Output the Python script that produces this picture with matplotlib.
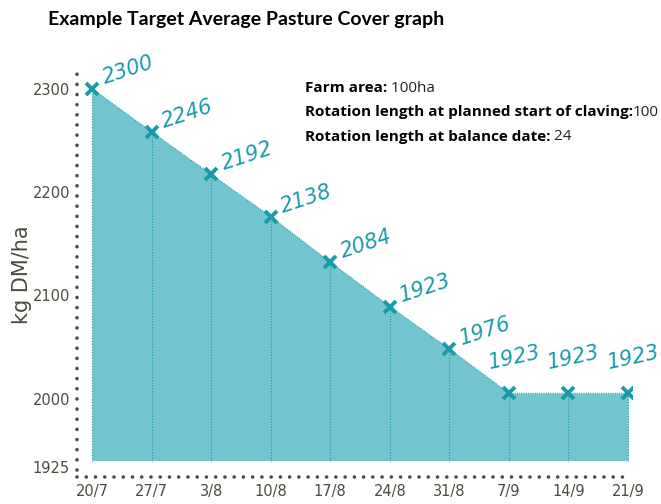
import matplotlib
matplotlib.use("Agg")
import matplotlib.pyplot as plt
import numpy as np

dates = ['20/7', '27/7', '3/8', '10/8', '17/8', '24/8', '31/8', '7/9', '14/9', '21/9']
cover = [2300, 2258, 2217, 2176, 2132, 2089, 2048, 2005, 2005, 2005]
point_labels = ['2300', '2246', '2192', '2138', '2084', '1923', '1976', '1923', '1923', '1923']
y_ticks = [1925, 2000, 2100, 2200, 2300]
info_bold = ['Farm area:', 'Rotation length at planned start of claving:', 'Rotation length at balance date:']
info_value = [' 100ha', '100', ' 24']
title = 'Example Target Average Pasture Cover graph'

W, H = 661, 504
TEAL = '#1a9ba8'
FILL = '#72c5cf'
GREY = '#4b4b3f'
SANS = ['Open Sans', 'DejaVu Sans']
TITLE_FONT = ['Lato', 'Open Sans', 'DejaVu Sans']

fig = plt.figure(figsize=(W / 100, H / 100), dpi=100)
ax = fig.add_axes([77 / W, 1 - 476 / H, (632 - 77) / W, (476 - 70) / H])
x = np.arange(len(dates))
ax.set_xlim(-15 / 59.56, 9 + 4 / 59.56)
ax.set_ylim(1925, 2318)

base = 1940
ax.fill_between(x, cover, base, color=FILL, lw=0, zorder=1)
ax.plot(x, cover, color=TEAL, lw=0.8, ls=(0, (1, 1)), zorder=2)
ax.vlines(x, base, cover, colors=TEAL, lw=0.8, linestyles=(0, (1, 1.5)), zorder=2)
ax.plot(x, cover, 'x', color=TEAL, ms=9, mew=2.8, zorder=3)

for i, (xi, yi, lab) in enumerate(zip(x, cover, point_labels)):
    if i < 7:
        ax.annotate(lab, (xi, yi), xytext=(9, 3), textcoords='offset points',
                    ha='left', va='baseline', rotation=18, rotation_mode='anchor',
                    fontsize=15, fontstyle='oblique', color=TEAL, zorder=4)
    else:
        ax.annotate(lab, (xi, yi), xytext=(4, 26), textcoords='offset points',
                    ha='center', va='center', rotation=12, rotation_mode='anchor',
                    fontsize=15, fontstyle='oblique', color=TEAL, zorder=4)

for s in ax.spines.values():
    s.set_visible(False)
# dotted axes
ax.plot([0, 0], [0.015, 1], transform=ax.transAxes, color=GREY, lw=2.6,
        ls=(0, (0.01, 2.8)), dash_capstyle='round', clip_on=False)
ax.plot([0, 0.99], [-0.003, -0.003], transform=ax.transAxes, color=GREY, lw=2.6,
        ls=(0, (0.01, 2.55)), dash_capstyle='round', clip_on=False)

ax.set_xticks(x)
ax.set_xticklabels(dates)
ax.set_yticks(y_ticks)
ax.set_yticklabels([str(t) for t in y_ticks])
ax.tick_params(length=0, labelsize=10.5, labelcolor=GREY)
ax.tick_params(axis='y', pad=5)
ax.tick_params(axis='x', pad=6)
ylabs = ax.get_yticklabels()
ylabs[0].set_va('bottom')

fig.text(22 / W, 1 - 275 / H, 'kg DM/ha', rotation=90, ha='center', va='center',
         fontsize=15, color=GREY)

fig.text(246 / W, 1 - 20 / H, title, ha='center', va='center', fontsize=14,
         fontweight='bold', family=TITLE_FONT, color='black')

fig.canvas.draw()
renderer = fig.canvas.get_renderer()
ys = [88, 112, 137]
for b, v, yy in zip(info_bold, info_value, ys):
    t = fig.text(305 / W, 1 - yy / H, b, ha='left', va='center', fontsize=11,
                 fontweight='bold', family=SANS, color='black')
    bb = t.get_window_extent(renderer)
    fig.text(bb.x1 / W, 1 - yy / H, v, ha='left', va='center', fontsize=11,
             family=SANS, color='#222222')

fig.savefig('out.png', dpi=100)
